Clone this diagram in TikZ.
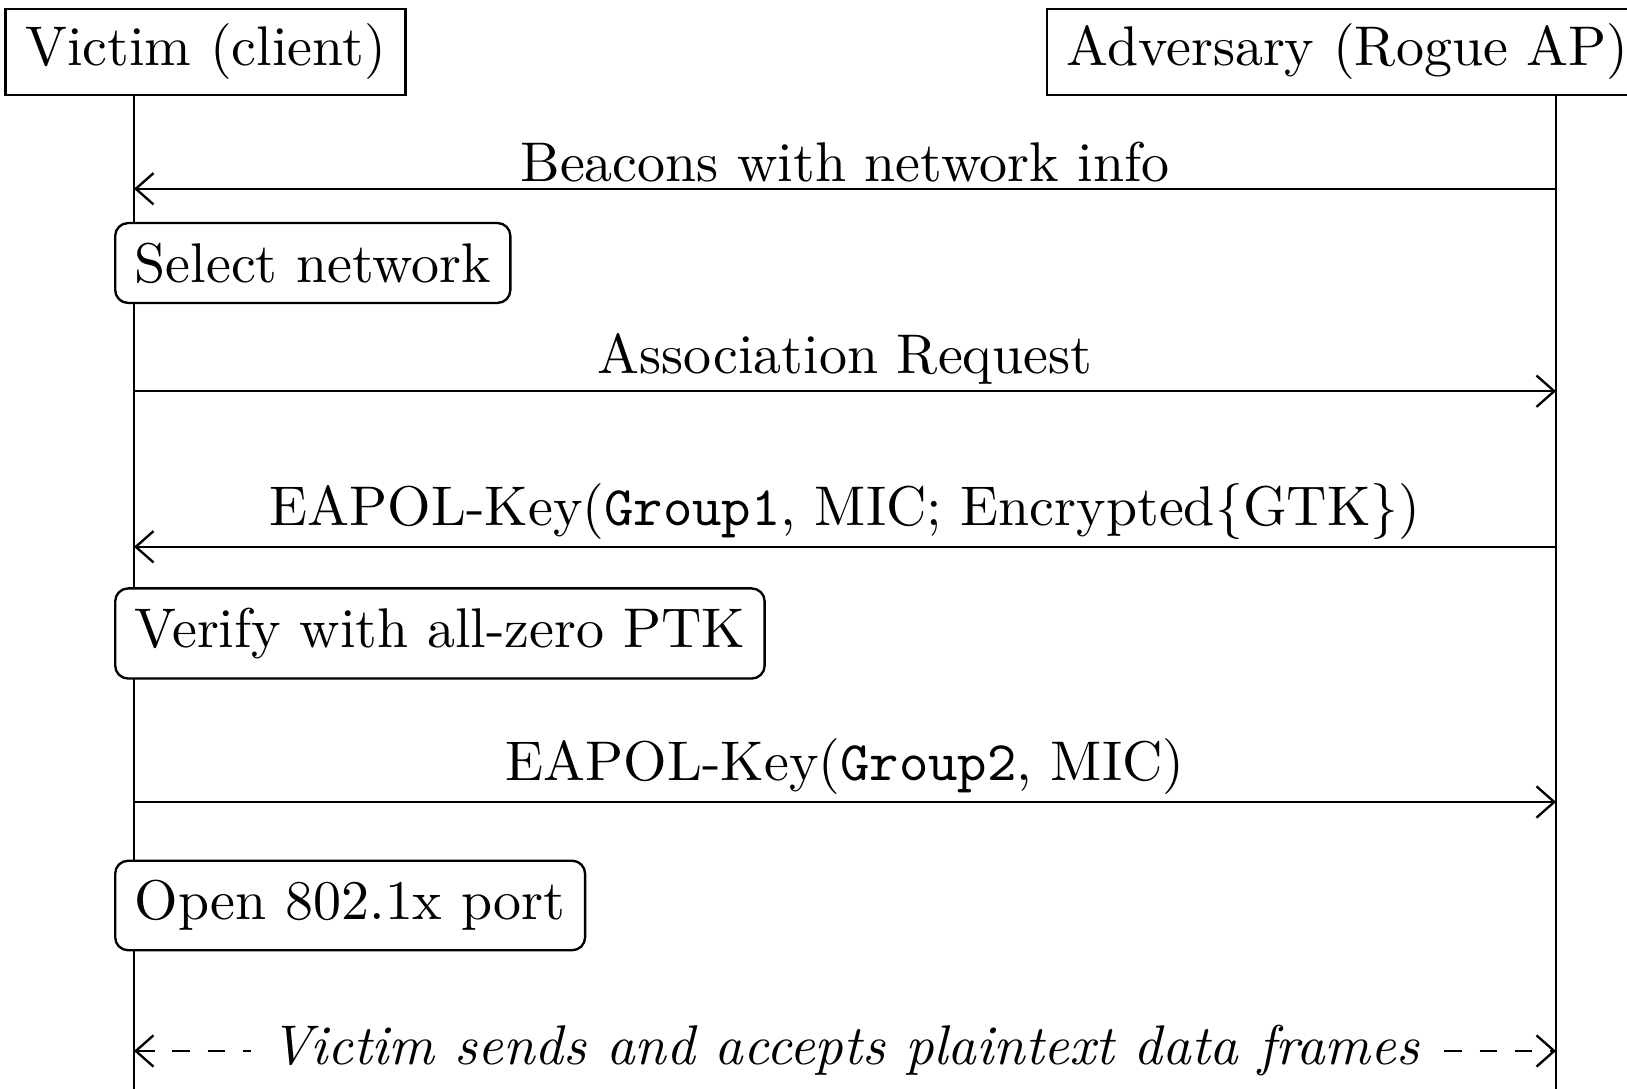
\documentclass[tikz,border=0pt]{standalone}
\usetikzlibrary{arrows.meta}
\newcommand\seqfont{\fontsize{9.5pt}{11.4pt}\selectfont}

\tikzset{
  actor/.style={draw, fill=white, inner ysep=2.6pt},
  action/.style={draw, fill=white, rounded corners=2.2pt, anchor=west},
  msg/.style={-{Straight Barb[length=1.06mm,width=1.87mm]}},
  datamsg/.style={{Straight Barb[length=1.06mm,width=1.87mm]}-{Straight Barb[length=1.06mm,width=1.87mm]}, dashed},
  msglabel/.style={above, inner sep=1pt},
  datanote/.style={fill=white, font=\seqfont\itshape},
}

\begin{document}
\begin{tikzpicture}[x=0.0597mm, y=-0.0597mm, font=\seqfont]
	\useasboundingbox (0,0) rectangle (1627,1089);
	\clip (0,0) rectangle (1627,1089);
	
	%%%%% actors and lifelines %%%%%
	\coordinate (vbot) at (134, 1089);
	\coordinate (abot) at (1556, 1089);
	
	\node[actor] (victim) at (205.5, 52) {Victim (client)};
	\node[actor, anchor=west] (adv) at (1046, 52) {Adversary (Rogue AP)};
	
	\draw (vbot |- victim.south) -- (vbot);
	\draw (abot |- adv.south) -- (abot);
	
	%%%%% messages %%%%%
	\coordinate (v1) at (134, 188.8);  \coordinate (a1) at (1556, 188.8);
	\coordinate (v2) at (134, 391.2);  \coordinate (a2) at (1556, 391.2);
	\coordinate (v3) at (134, 546.8);  \coordinate (a3) at (1556, 546.8);
	\coordinate (v4) at (134, 802);    \coordinate (a4) at (1556, 802);
	\coordinate (v5) at (134, 1051);   \coordinate (a5) at (1556, 1051);
	
	\draw[msg] (a1) -- node[msglabel] (beacons) {Beacons with network info} (v1);
	\node[action] (select) at (114, 263) {Select network};
	
	\draw[msg] (v2) -- node[msglabel] (assoc) {Association Request} (a2);
	
	\draw[msg] (a3) -- node[msglabel] (group1) {EAPOL-Key(\texttt{Group1}, MIC; Encrypted\{GTK\})} (v3);
	\node[action] (verify) at (114, 633.5) {Verify with all-zero PTK};
	
	\draw[msg] (v4) -- node[msglabel] (group2) {EAPOL-Key(\texttt{Group2}, MIC)} (a4);
	\node[action] (openport) at (114, 905.5) {Open 802.1x port};
	
	\draw[datamsg] (v5) -- node[datanote] (plain) {Victim sends and accepts plaintext data frames} (a5);
\end{tikzpicture}
\end{document}
